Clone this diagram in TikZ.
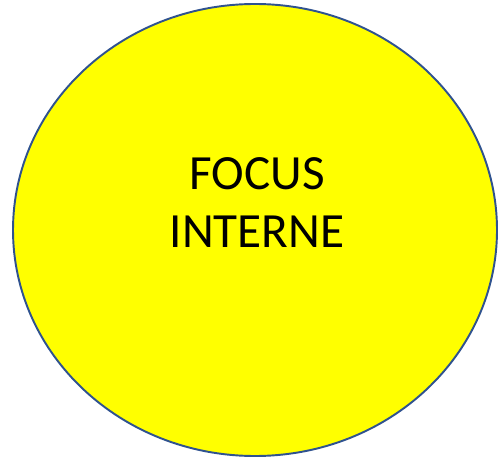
\documentclass[tikz,border=0pt]{standalone}
\usepackage{fontspec}
\setmainfont{Carlito}
\definecolor{focusfill}{HTML}{FFFF00}
\definecolor{focusline}{HTML}{2F528F}
\usetikzlibrary{shapes.geometric, positioning}
\tikzset{
  bubble/.style={
    ellipse, draw=focusline, fill=focusfill, line width=1.1pt,
    minimum width=9.68cm, minimum height=9.04cm, inner sep=0pt
  },
  bubbletext/.style={
    font=\fontsize{28}{33}\selectfont, text=black, align=center
  },
}
\begin{document}
\begin{tikzpicture}
  \useasboundingbox (0,0) rectangle (10,9.18);
  % Ellipse
  \node[bubble] (focus) at (5.10,4.58) {};
  \node[bubbletext] (label) at ([xshift=0.04cm, yshift=0.54cm]focus.center) {FOCUS\\INTERNE};
\end{tikzpicture}
\end{document}
